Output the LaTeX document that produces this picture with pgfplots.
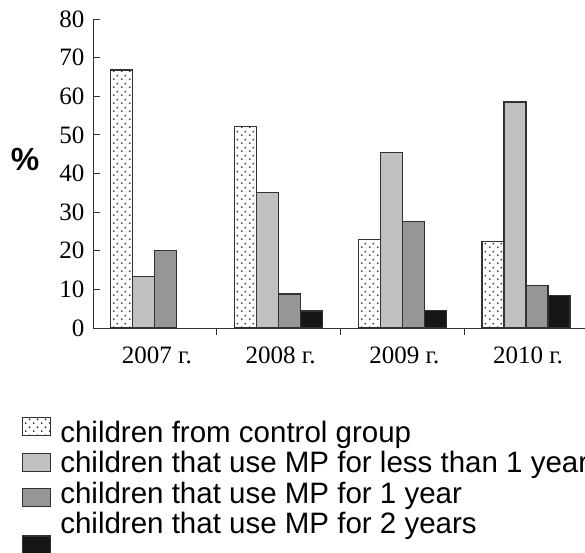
\documentclass[border=0pt]{standalone}
\usepackage{pgfplots}
\pgfplotsset{compat=1.18}
\usepackage{fontspec}
\setmainfont{Liberation Serif}
\newfontfamily\arial{Liberation Sans}
\usetikzlibrary{patterns}

\pgfdeclarepatternformonly{sparsedots}{\pgfqpoint{0pt}{0pt}}{\pgfqpoint{8pt}{8pt}}{\pgfqpoint{8pt}{8pt}}{%
  \pgfpathcircle{\pgfqpoint{2pt}{2pt}}{1.1pt}%
  \pgfpathcircle{\pgfqpoint{6pt}{6pt}}{1.1pt}%
  \pgfusepath{fill}}

\definecolor{lightbar}{RGB}{192,192,192}
\definecolor{midbar}{RGB}{150,150,150}
\definecolor{darkbar}{RGB}{22,22,22}
\definecolor{edge}{RGB}{50,50,50}

\pgfplotsset{
  legbox/.style 2 args={legend image code/.code={\draw[##1] (0pt,#1) rectangle (28pt,#2);}},
}

\begin{document}
\begin{tikzpicture}
\useasboundingbox (0,0) rectangle (585pt,552pt);

\node[font=\arial\bfseries\fontsize{32}{32}\selectfont] at (25pt,393pt) {\%};

\begin{axis}[
    at={(93pt,224pt)}, anchor=south west,
    scale only axis,
    width=492pt, height=309pt,
    xmin=-0.5, xmax=3.477,
    ymin=0, ymax=80,
    axis lines=left,
    axis line style={-, draw=black!80, line width=1pt},
    ytick={0,10,...,80},
    tick align=inside,
    major tick length=7pt,
    tick style={draw=black!80, line width=1pt},
    xtick={0.5,1.5,2.5},
    xticklabels={},
    extra x ticks={0,1,2,3},
    extra x tick labels={2007 г.,2008 г.,2009 г.,2010 г.},
    extra x tick style={major tick length=0pt,
        xticklabel style={xshift=2pt, yshift=-15pt}},
    /pgf/number format/assume math mode=true,
    ticklabel style={font=\fontsize{25}{25}\selectfont},
    yticklabel style={xshift=-5pt},
    ybar=0pt,
    bar width=22pt,
    legend style={at={(-0.1443,-0.287)}, anchor=north west,
        draw=none, fill=none, inner sep=0pt, row sep=3.6pt,
        font=\arial\fontsize{29.5}{30.5}\selectfont,
        cells={anchor=west},
        /tikz/every odd column/.style={column sep=7pt}},
    legend cell align=left,
]
\addplot[draw=edge, line width=1.1pt, fill=white,
    postaction={pattern=sparsedots, pattern color=black!80}, legbox={-3pt}{15pt}]
    coordinates {(0,66.8) (1,52.2) (2,23.0) (3,22.5)};
\addlegendentry{children from control group}
\addplot[draw=edge, line width=1.1pt, fill=lightbar, legbox={-9pt}{9pt}]
    coordinates {(0,13.3) (1,35.1) (2,45.4) (3,58.5)};
\addlegendentry{children that use MP for less than 1 year}
\addplot[draw=edge, line width=1.1pt, fill=midbar, legbox={-13pt}{5pt}]
    coordinates {(0,20.0) (1,8.8) (2,27.5) (3,11.0)};
\addlegendentry{children that use MP for 1 year}
\addplot[draw=edge, line width=1.1pt, fill=darkbar, legbox={-30pt}{-12pt}]
    coordinates {(1,4.4) (2,4.5) (3,8.4)};
\addlegendentry{children that use MP for 2 years}
\end{axis}
\end{tikzpicture}
\end{document}
